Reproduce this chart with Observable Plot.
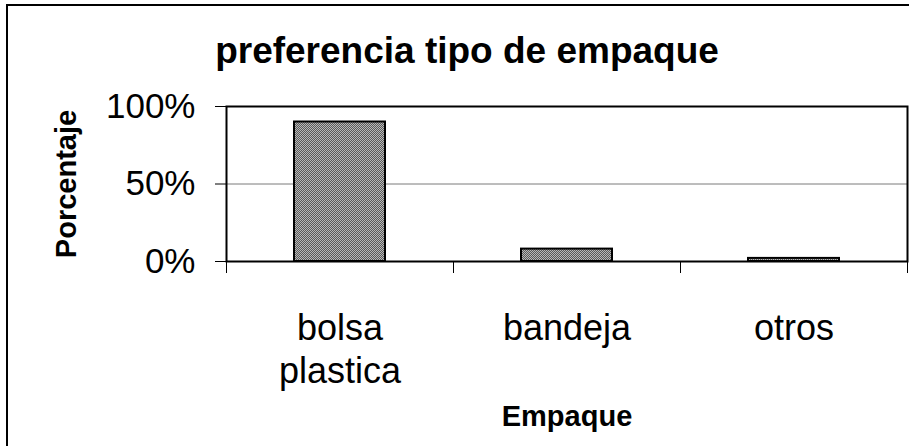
<!DOCTYPE html>
<html>
<head>
<meta charset="utf-8">
<script src="https://cdn.jsdelivr.net/npm/d3@7"></script>
<script src="https://cdn.jsdelivr.net/npm/@observablehq/plot@0.6"></script>
<style>
  body { margin: 0; background: #fff; }
  #wrap { position: relative; width: 909px; height: 446px; overflow: hidden; font-family: "Liberation Sans", Arial, sans-serif; color: #000; }
  #border { position: absolute; left: 6px; top: 4px; width: 1000px; height: 1000px; border: 2px solid #000; box-sizing: border-box; pointer-events: none; }
  #title { height: 90px; box-sizing: border-box; padding-top: 32px; padding-left: 25px; line-height: 37px; font-size: 37px; font-weight: bold; text-align: center; }
  #chart svg { display: block; }
</style>
</head>
<body>
<div id="wrap">
  <div id="border"></div>
  <div id="title"></div>
  <div id="chart"></div>
</div>
<script>
const title = "preferencia tipo de empaque";
const xLabel = "Empaque";
const yLabel = "Porcentaje";
const categories = ["bolsa plastica", "bandeja", "otros"];
const tickLabels = ["bolsa\nplastica", "bandeja", "otros"];
const values = [0.90, 0.08, 0.02];
const yTicks = [0, 0.5, 1];

document.getElementById("title").textContent = title;

const data = categories.map((c, i) => ({cat: c, val: values[i]}));
const labelMap = new Map(categories.map((c, i) => [c, tickLabels[i]]));

const W = 909, H = 356, mL = 226, mR = 2, mT = 16, mB = 185;
const step = (W - mL - mR) / categories.length;

const chart = Plot.plot({
  width: W,
  height: H,
  marginLeft: mL,
  marginRight: mR,
  marginTop: mT,
  marginBottom: mB,
  style: {fontFamily: '"Liberation Sans", Arial, sans-serif', color: "#000", background: "transparent", overflow: "visible"},
  x: {domain: categories, paddingInner: 0.6, paddingOuter: 0.3, axis: null, label: null},
  y: {domain: [0, 1], axis: null, label: null},
  marks: [
    Plot.gridY([0.5], {stroke: "#7a7a7a", strokeOpacity: 1, strokeWidth: 1}),
    Plot.barY(data, {x: "cat", y: "val", fill: "url(#dots)", stroke: "#000", strokeWidth: 2}),
    Plot.frame({stroke: "#000", strokeWidth: 2}),
    Plot.axisY(yTicks, {label: null, tickSize: 11, tickPadding: 20, tickFormat: d3.format(".0%"), fontSize: 35, strokeWidth: 1}),
    Plot.axisX(categories, {label: null, tickSize: 12, dx: -step / 2, tickFormat: () => "", strokeWidth: 1}),
    Plot.axisX([categories[categories.length - 1]], {label: null, tickSize: 12, dx: step / 2, tickFormat: () => "", strokeWidth: 1}),
    Plot.axisX(categories, {label: null, tickSize: 0, tickPadding: 48, tickFormat: d => labelMap.get(d), fontSize: 36, lineHeight: 1.2}),
    Plot.text([yLabel], {frameAnchor: "left", dx: -171, rotate: -90, lineAnchor: "top", textAnchor: "middle", fontSize: 29, fontWeight: "bold"}),
    Plot.text([xLabel], {frameAnchor: "bottom", dy: 164, lineAnchor: "bottom", fontSize: 29, fontWeight: "bold"})
  ]
});

const defs = d3.select(chart).insert("defs", ":first-child");
const pat = defs.append("pattern").attr("id", "dots").attr("patternUnits", "userSpaceOnUse").attr("width", 2).attr("height", 2);
pat.append("rect").attr("width", 2).attr("height", 2).attr("fill", "#5a5a5a");
pat.append("rect").attr("width", 1).attr("height", 1).attr("fill", "#b8b8b8");
pat.append("rect").attr("x", 1).attr("y", 1).attr("width", 1).attr("height", 1).attr("fill", "#b8b8b8");

document.getElementById("chart").appendChild(chart);
</script>
</body>
</html>
